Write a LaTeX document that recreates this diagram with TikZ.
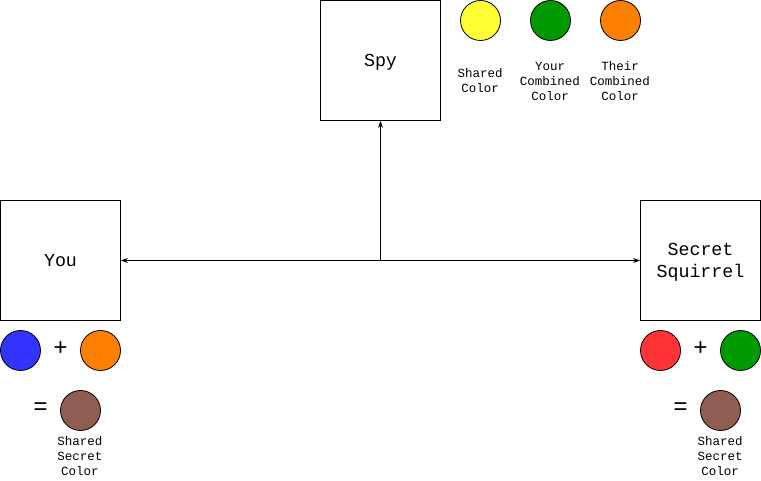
\documentclass[tikz,border=0pt]{standalone}
\usepackage{fontspec}
\setmonofont{Liberation Mono}
\usetikzlibrary{arrows.meta}
\definecolor{cyellow}{HTML}{FFFF33}
\definecolor{cgreen}{HTML}{009900}
\definecolor{corange}{HTML}{FF8000}
\definecolor{cblue}{HTML}{3333FF}
\definecolor{cred}{HTML}{FF3333}
\definecolor{cbrown}{HTML}{8F5E50}
\begin{document}
\begin{tikzpicture}[x=1pt,y=-1pt,
  box/.style={draw=black,line width=0.8pt,minimum width=120pt,minimum height=120pt,inner sep=0pt,align=center,font=\ttfamily\fontsize{18.3}{22}\selectfont},
  dot/.style={circle,draw=black,line width=0.8pt,minimum size=40pt,inner sep=0pt,fill=#1},
  lbl/.style={align=center,inner sep=0pt,font=\ttfamily\fontsize{12.5}{15}\selectfont},
  op/.style={inner sep=0pt,font=\ttfamily\fontsize{24}{24}\selectfont},
  conn/.style={line width=0.8pt,-{Stealth[length=7pt,width=5pt]}}]
\useasboundingbox (0,0) rectangle (761,481);
\node[box,text depth=0pt] (spy) at (380.5,60.5) {Spy};
\node[box] (you) at (60.5,260.5) {You};
\node[box,text depth=0pt] (sq) at (700.5,260.5) {Secret\\Squirrel};
\node[dot=cyellow] (y1) at (480.5,20.5) {};
\node[dot=cgreen] (g1) at (550.5,20.5) {};
\node[dot=corange] (o1) at (620.5,20.5) {};
\node[lbl] (ly1) at (480,80.5) {Shared\\Color};
\node[lbl] (lg1) at (550,81) {Your\\Combined\\Color};
\node[lbl] (lo1) at (620,81) {Their\\Combined\\Color};
\node[dot=cblue] (b2) at (20.5,350.5) {};
\node[op] (p2) at (60.5,349) {+};
\node[dot=corange] (o2) at (100.5,350.5) {};
\node[op] (e2) at (40.5,409) {=};
\node[dot=cbrown] (br2) at (80.5,410.5) {};
\node[lbl] (l2) at (80,456) {Shared\\Secret\\Color};
\node[dot=cred] (r3) at (660.5,350.5) {};
\node[op] (p3) at (700.5,349) {+};
\node[dot=cgreen] (g3) at (740.5,350.5) {};
\node[op] (e3) at (680.5,409) {=};
\node[dot=cbrown] (br3) at (720.5,410.5) {};
\node[lbl] (l3) at (720,456) {Shared\\Secret\\Color};
\coordinate (c) at (380.5,260.5);
\draw[conn] (c) -- (you.east);
\draw[conn] (c) -- (sq.west);
\draw[conn] (c) -- (spy.south);
\end{tikzpicture}
\end{document}
